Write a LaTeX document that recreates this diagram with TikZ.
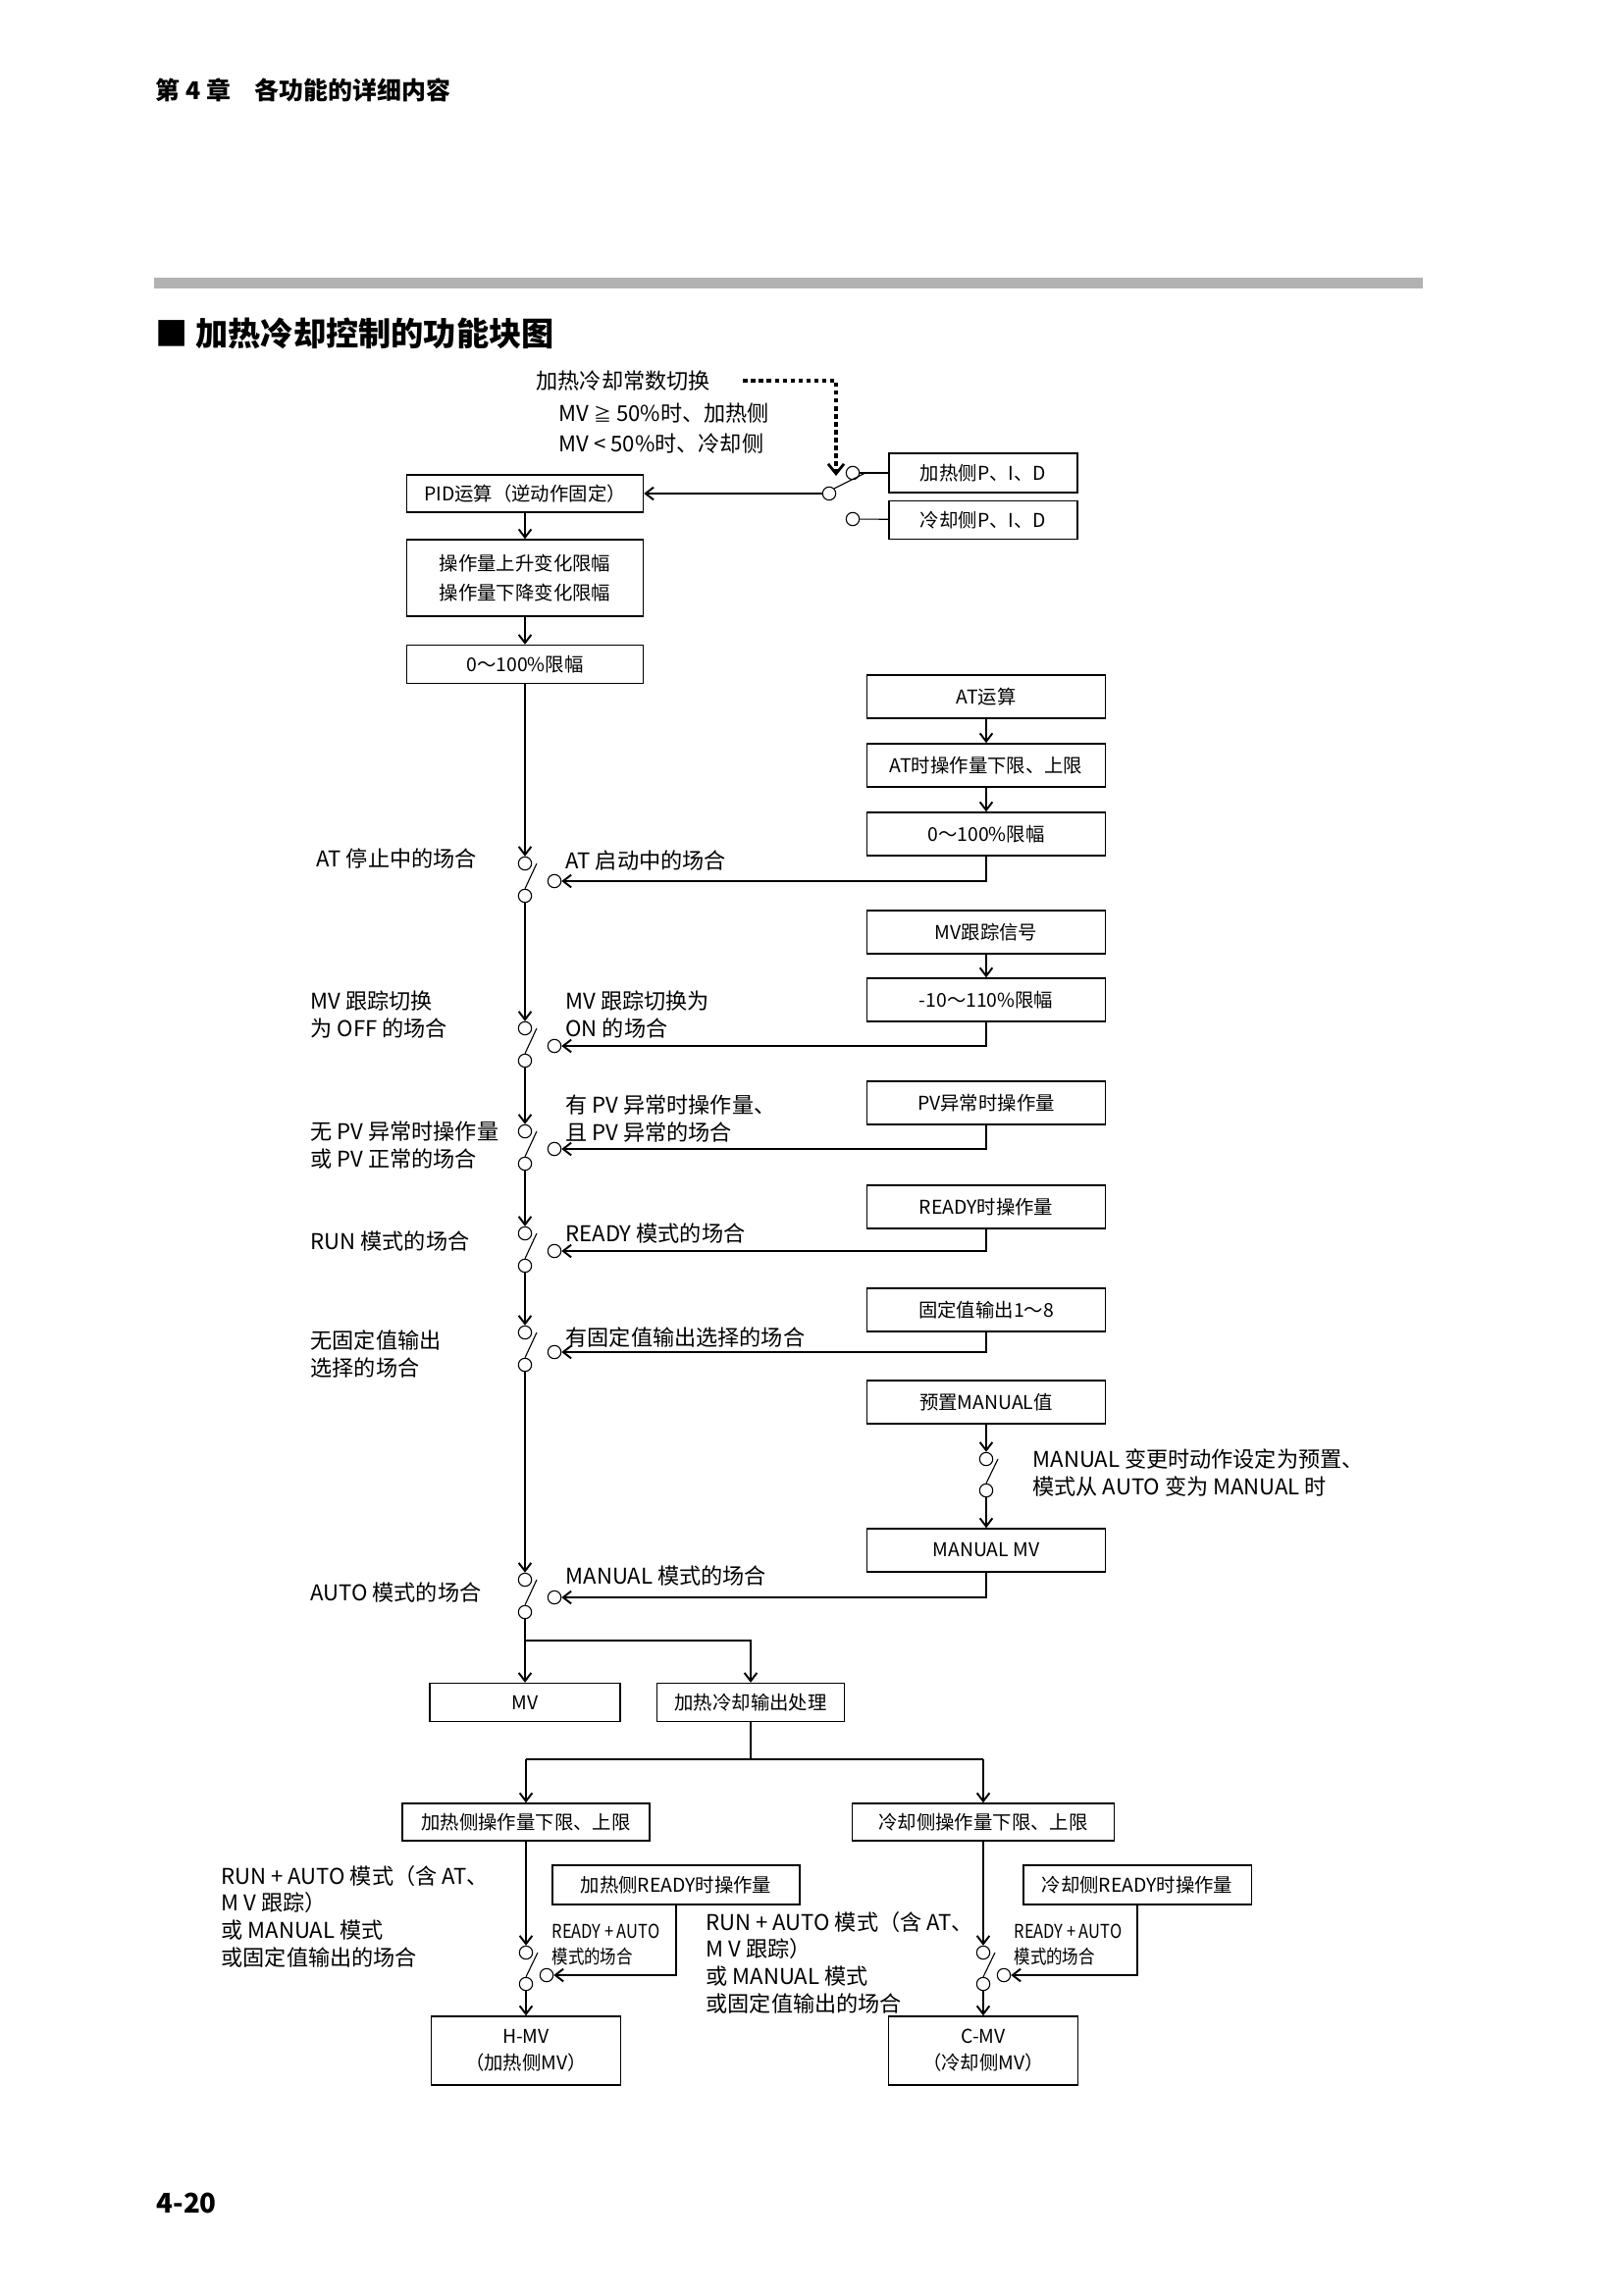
\documentclass[tikz,border=0pt]{standalone}
\usepackage{fontspec}
\setmainfont{Noto Sans CJK SC}
\usetikzlibrary{arrows.meta}

\begin{document}
\begin{tikzpicture}[
  x=0.012697cm, y=-0.012697cm,
  >={Straight Barb[length=3pt,width=4.6pt,line width=0.7pt]},
  box/.style={draw, line width=0.5pt, inner sep=0pt, align=center, font=\fontsize{7}{11}\selectfont},
  colbox/.style={box, minimum width=30.85mm, minimum height=5.6mm},
  lbl/.style={anchor=west, align=left, inner sep=0pt, font=\fontsize{8}{10}\selectfont},
  smalllbl/.style={anchor=west, align=left, inner sep=0pt, font=\fontsize{7}{9.5}\selectfont},
  contact/.style={circle, draw, minimum size=1.7mm, inner sep=0pt},
  dotline/.style={line width=1.1pt, dash pattern=on 1.7pt off 1.2pt}
]
\useasboundingbox (0,0) rectangle (1654,2339);
\node[anchor=west, inner sep=0pt, font=\fontsize{9}{9}\selectfont\bfseries] (chap) at (158,92) {第 4 章　各功能的详细内容};
\fill[black!30] (157,283) rectangle (1450,294);
\node[anchor=west, inner sep=0pt, font=\fontsize{12}{12}\selectfont\bfseries] (title) at (158,340) {■ 加热冷却控制的功能块图};
\node[anchor=west, inner sep=0pt, font=\fontsize{10}{10}\selectfont\bfseries] (page) at (159,2245) {4-20};

\node[lbl] (cst1) at (546,388) {加热冷却常数切换};
\node[lbl] (cst2) at (569,421) {MV {\fontsize{6.5}{6.5}\selectfont≧} 50\%时、加热侧};
\node[lbl] (cst3) at (569,452) {MV < 50\%时、冷却侧};

\node[box, minimum width=30.6mm, minimum height=4.83mm] (pid) at (535,503) {PID运算（逆动作固定）};
\node[box, minimum width=30.6mm, minimum height=9.9mm] (rate) at (535,589) {操作量上升变化限幅\\操作量下降变化限幅};
\node[box, minimum width=30.6mm, minimum height=4.95mm] (lim0) at (535,677) {0～100\%限幅};
\draw[->] (pid) -- (rate);
\draw[->] (rate) -- (lim0);

\node[box, minimum width=24.4mm, minimum height=5.1mm] (hpid) at (1002,482) {加热侧P、I、D};
\node[box, minimum width=24.4mm, minimum height=4.95mm] (cpid) at (1002,530) {冷却侧P、I、D};
\node[contact] (pt) at (869,482) {};
\node[contact] (pb) at (869,529) {};
\node[contact] (pc) at (845,503) {};
\coordinate (dsw) at (852,485);
\draw (pt) -- (hpid);
\draw (pb) -- (cpid);
\draw[->] (pc) -- (pid);
\draw (pc.north east) -- ([xshift=0.7mm]pt.east);
\draw[dotline, -{Straight Barb[length=3.6pt,width=5.8pt,line width=1pt]}] ([xshift=4.2mm]cst1.east) -| (dsw);

\node[colbox] (at) at (1005,710) {AT运算};
\node[colbox] (atlim) at (1005,780) {AT时操作量下限、上限};
\node[colbox] (atclip) at (1005,850) {0～100\%限幅};
\node[colbox] (trk) at (1005,950) {MV跟踪信号};
\node[colbox] (trkclip) at (1005,1019) {-10～110\%限幅};
\node[colbox] (pvb) at (1005,1124) {PV异常时操作量};
\node[colbox] (rdy) at (1005,1230) {READY时操作量};
\node[colbox] (fix) at (1005,1335) {固定值输出1～8};
\node[colbox] (pre) at (1005,1429) {预置MANUAL值};
\node[colbox] (man) at (1005,1580) {MANUAL MV};
\draw[->] (at) -- (atlim);
\draw[->] (atlim) -- (atclip);
\draw[->] (trk) -- (trkclip);

\node[contact] (s1t) at (535,880) {};
\node[contact] (s1b) at (535,913) {};
\node[contact] (s1r) at (565,898) {};
\node[contact] (s2t) at (535,1048) {};
\node[contact] (s2b) at (535,1081) {};
\node[contact] (s2r) at (565,1066) {};
\node[contact] (s3t) at (535,1153) {};
\node[contact] (s3b) at (535,1186) {};
\node[contact] (s3r) at (565,1171) {};
\node[contact] (s4t) at (535,1257) {};
\node[contact] (s4b) at (535,1290) {};
\node[contact] (s4r) at (565,1275) {};
\node[contact] (s5t) at (535,1358) {};
\node[contact] (s5b) at (535,1391) {};
\node[contact] (s5r) at (565,1378) {};
\node[contact] (s6t) at (535,1610) {};
\node[contact] (s6b) at (535,1643) {};
\node[contact] (s6r) at (565,1628) {};
\draw (s1b.north) -- ([xshift=0.6mm]s1t.east);
\draw (s2b.north) -- ([xshift=0.6mm]s2t.east);
\draw (s3b.north) -- ([xshift=0.6mm]s3t.east);
\draw (s4b.north) -- ([xshift=0.6mm]s4t.east);
\draw (s5b.north) -- ([xshift=0.6mm]s5t.east);
\draw (s6b.north) -- ([xshift=0.6mm]s6t.east);
\draw[->] (lim0) -- (s1t);
\draw[->] (s1b) -- (s2t);
\draw[->] (s2b) -- (s3t);
\draw[->] (s3b) -- (s4t);
\draw[->] (s4b) -- (s5t);
\draw[->] (s5b) -- (s6t);
\draw[->] (atclip) |- (s1r);
\draw[->] (trkclip) |- (s2r);
\draw[->] (pvb) |- (s3r);
\draw[->] (rdy) |- (s4r);
\draw[->] (fix) |- (s5r);
\draw[->] (man) |- (s6r);

\node[contact] (pst) at (1005,1487) {};
\node[contact] (psb) at (1005,1519) {};
\draw[->] (pre) -- (pst);
\draw (psb.north) -- ([xshift=0.6mm]pst.east);
\draw[->] (psb) -- (man);

\node[lbl] (l1) at (322,875) {AT 停止中的场合};
\node[lbl] (l2) at (316,1034) {MV 跟踪切换\\为 OFF 的场合};
\node[lbl] (l3) at (316,1167) {无 PV 异常时操作量\\或 PV 正常的场合};
\node[lbl] (l4) at (316,1265) {RUN 模式的场合};
\node[lbl] (l5) at (316,1380) {无固定值输出\\选择的场合};
\node[lbl] (l6) at (316,1623) {AUTO 模式的场合};
\node[lbl] (r1) at (576,877) {AT 启动中的场合};
\node[lbl] (r2) at (576,1034) {MV 跟踪切换为\\ON 的场合};
\node[lbl] (r3) at (576,1140) {有 PV 异常时操作量、\\且 PV 异常的场合};
\node[lbl] (r4) at (576,1257) {READY 模式的场合};
\node[lbl] (r5) at (576,1363) {有固定值输出选择的场合};
\node[lbl] (r6) at (576,1606) {MANUAL 模式的场合};
\node[lbl] (prel) at (1052,1501) {MANUAL 变更时动作设定为预置、\\模式从 AUTO 变为 MANUAL 时};

\node[box, minimum width=24.6mm, minimum height=4.95mm] (mv) at (535,1735) {MV};
\node[box, minimum width=24.25mm, minimum height=4.95mm] (proc) at (765,1735) {加热冷却输出处理};
\coordinate (br) at (535,1672);
\coordinate (spl) at (536,1793);
\coordinate (spr) at (1002,1793);
\draw[->] (s6b) -- (mv);
\draw[->] (br) -| (proc);
\draw (proc) -- (proc |- spl);
\draw (spl) -- (spr);

\node[box, minimum width=32mm, minimum height=4.83mm] (hlim) at (536,1857) {加热侧操作量下限、上限};
\node[box, minimum width=33.9mm, minimum height=4.83mm] (clim) at (1002,1857) {冷却侧操作量下限、上限};
\draw[->] (spl) -- (hlim);
\draw[->] (spr) -- (clim);

\node[box, minimum width=32mm, minimum height=5.1mm] (hrdy) at (689,1921) {加热侧READY时操作量};
\node[box, minimum width=29.5mm, minimum height=5.1mm] (crdy) at (1159,1921) {冷却侧READY时操作量};
\node[contact] (hst) at (536,1990) {};
\node[contact] (hsb) at (536,2022) {};
\node[contact] (hsr) at (557,2013) {};
\node[contact] (cst) at (1002,1990) {};
\node[contact] (csb) at (1002,2022) {};
\node[contact] (csr) at (1023,2013) {};
\draw (hsb.north) -- ([xshift=0.6mm]hst.east);
\draw (csb.north) -- ([xshift=0.6mm]cst.east);
\draw[->] (hlim) -- (hst);
\draw[->] (clim) -- (cst);
\draw[->] (hrdy) |- (hsr);
\draw[->] (crdy) |- (csr);

\node[box, minimum width=24.5mm, minimum height=8.9mm, font=\fontsize{7}{9.7}\selectfont] (hmv) at (536,2090) {H-MV\\（加热侧MV）};
\node[box, minimum width=24.5mm, minimum height=8.9mm, font=\fontsize{7}{9.7}\selectfont] (cmv) at (1002,2090) {C-MV\\（冷却侧MV）};
\draw[->] (hsb) -- (hmv);
\draw[->] (csb) -- (cmv);

\node[lbl] (hl) at (225,1953) {RUN + AUTO 模式（含 AT、\\M V 跟踪）\\或 MANUAL 模式\\或固定值输出的场合};
\node[lbl] (cl) at (719,2000) {RUN + AUTO 模式（含 AT、\\M V 跟踪）\\或 MANUAL 模式\\或固定值输出的场合};
\node[smalllbl] (hr) at (562,1982) {\scalebox{0.85}[1]{READY + AUTO}\\\scalebox{0.85}[1]{模式的场合}};
\node[smalllbl] (cr) at (1033,1982) {\scalebox{0.85}[1]{READY + AUTO}\\\scalebox{0.85}[1]{模式的场合}};
\end{tikzpicture}
\end{document}
